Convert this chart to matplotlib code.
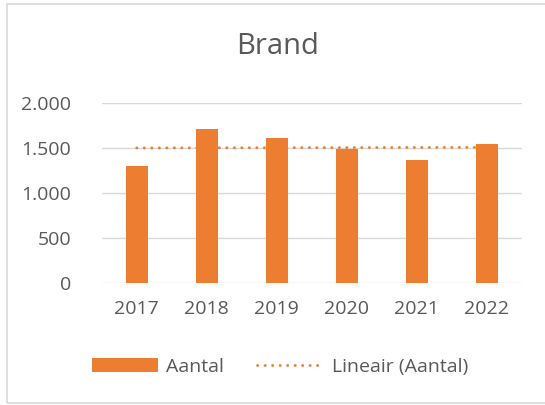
import numpy as np
import matplotlib
matplotlib.use("Agg")
import matplotlib.pyplot as plt
from matplotlib.patches import Rectangle
from matplotlib.ticker import FuncFormatter

years = ["2017", "2018", "2019", "2020", "2021", "2022"]
aantal = [1300, 1720, 1620, 1490, 1370, 1545]
yticks = [0, 500, 1000, 1500, 2000]
title = "Brand"

plt.rcParams['font.family'] = ['Open Sans', 'DejaVu Sans']
text_color = '#595959'
bar_color = '#ED7D31'
grid_color = '#D9D9D9'

fig = plt.figure(figsize=(5.45, 4.05), dpi=100)
fig.patch.set_facecolor('white')
fig.patches.append(Rectangle((7/545, 2/405), 1.2, 399/405, transform=fig.transFigure,
                             fill=False, edgecolor='#D9D9D9', linewidth=1.2))

ax = fig.add_axes([101.7/545, 1-283.3/405, 420/545, 180/405])
x = np.arange(len(years))
bars = ax.bar(x, aantal, width=0.31, color=bar_color, label='Aantal', zorder=3)

coef = np.polyfit(x, aantal, 1)
trend = np.polyval(coef, x)
line, = ax.plot(x, trend, linestyle=(0, (0.1, 2.6)), dash_capstyle='round', color=bar_color,
                linewidth=2.0, label='Lineair (Aantal)', zorder=2)

ax.set_xlim(-0.5, len(years) - 0.5)
ax.set_ylim(0, 2000)
ax.set_yticks(yticks)
ax.yaxis.set_major_formatter(FuncFormatter(lambda v, p: f"{int(v):,}".replace(",", ".")))
ax.set_xticks(x)
ax.set_xticklabels(years)
ax.grid(axis='y', color=grid_color, linewidth=1.0, zorder=0)
for s in ax.spines.values():
    s.set_visible(False)
ax.tick_params(axis='both', length=0, labelsize=14, labelcolor=text_color)
ax.tick_params(axis='y', pad=22)
ax.tick_params(axis='x', pad=12)

fig.text(0.51, 1-47/405, title, ha='center', va='center', fontsize=21, color=text_color)

leg = ax.legend([bars, line], ['Aantal', 'Lineair (Aantal)'],
                loc='center', bbox_to_anchor=(280/545, 1-367/405), bbox_transform=fig.transFigure,
                ncol=2, frameon=False, fontsize=14, handlelength=3.4, handletextpad=0.45,
                columnspacing=1.7, handleheight=0.7)
for t in leg.get_texts():
    t.set_color(text_color)

fig.savefig('out.png', dpi=100, facecolor='white')
